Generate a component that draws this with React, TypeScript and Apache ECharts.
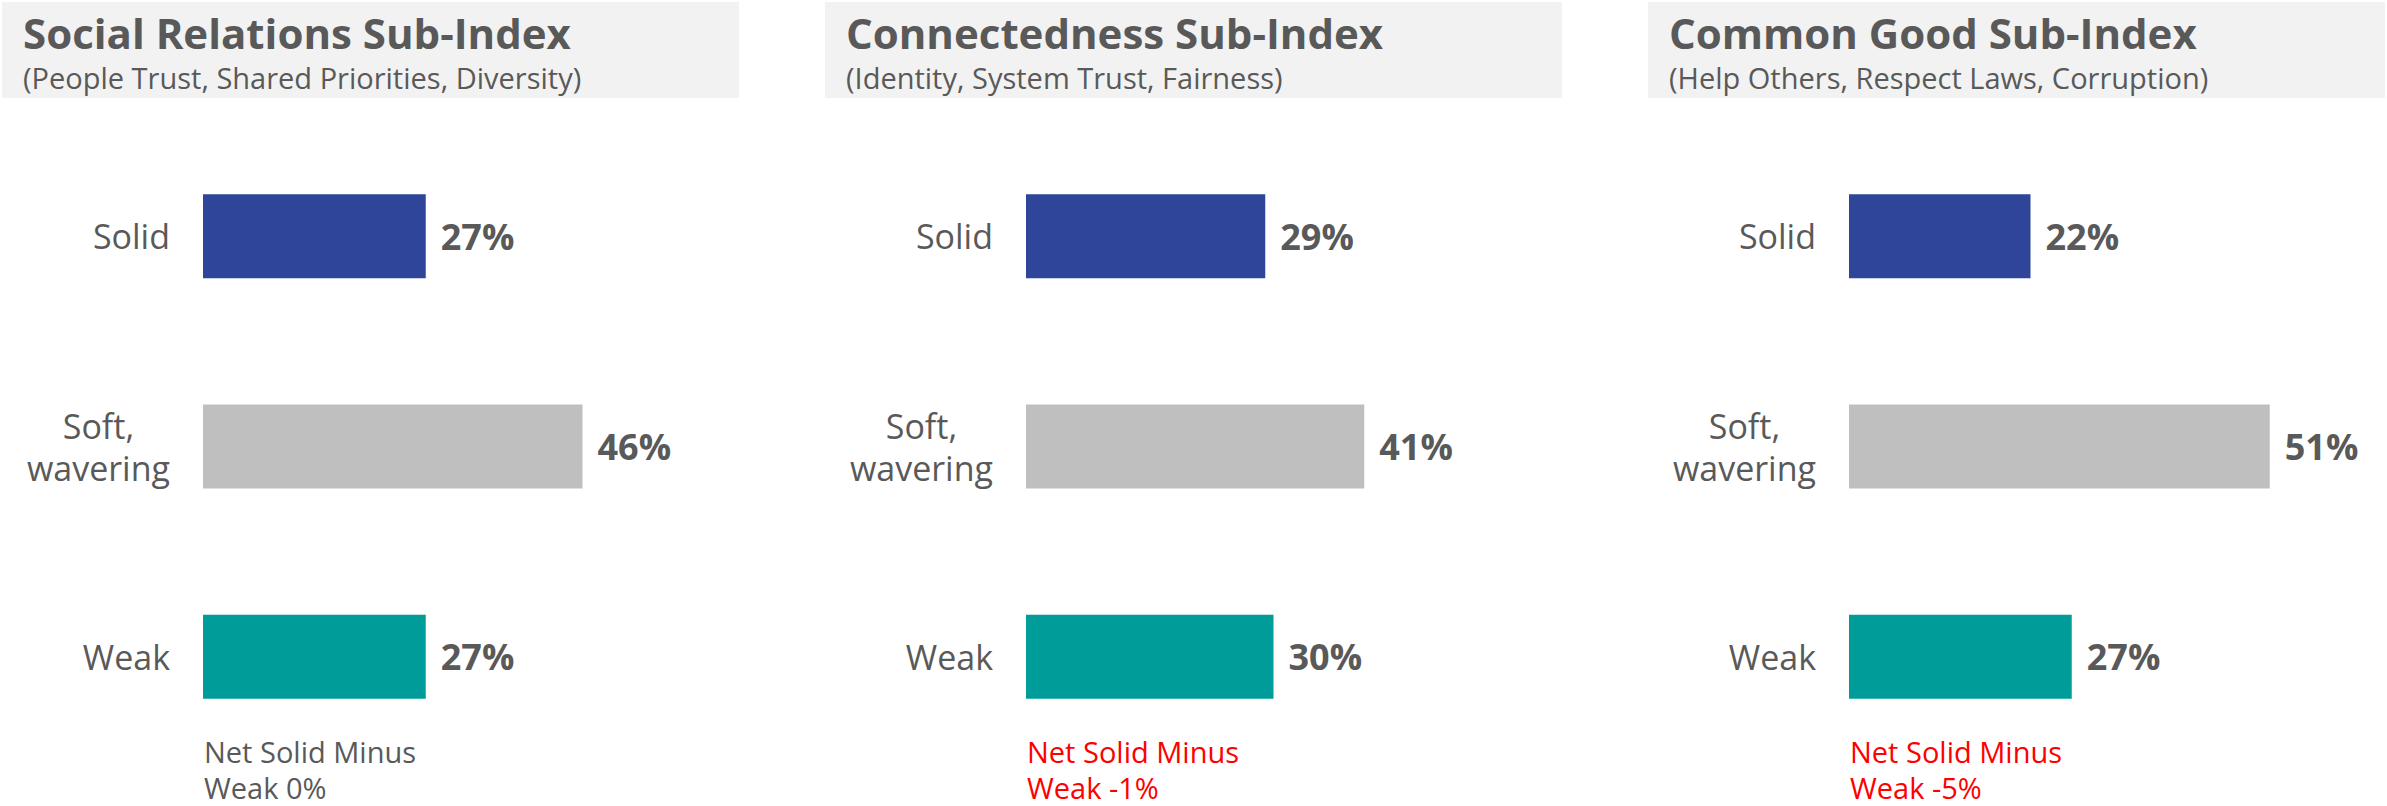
import React, { useEffect, useRef } from "react";
import * as echarts from "echarts";

const categories = ["Solid", "Soft,\nwavering", "Weak"];
const socialRelations = [27, 46, 27];
const connectedness = [29, 41, 30];
const commonGood = [22, 51, 27];
const panelValues = [socialRelations, connectedness, commonGood];
const panelTitles = ["Social Relations Sub-Index", "Connectedness Sub-Index", "Common Good Sub-Index"];
const panelSubtitles = [
  "(People Trust, Shared Priorities, Diversity)",
  "(Identity, System Trust, Fairness)",
  "(Help Others, Respect Laws, Corruption)",
];
const netNotes = ["Net Solid Minus\nWeak 0%", "Net Solid Minus\nWeak -1%", "Net Solid Minus\nWeak -5%"];
const noteColors = ["#595959", "#FF0000", "#FF0000"];
const barColors = ["#2E4599", "#BFBFBF", "#009C9A"];

const FONT = '"Open Sans", sans-serif';
const GRAY = "#595959";

export default function App() {
  const ref = useRef<HTMLDivElement>(null);
  useEffect(() => {
    document.body.style.margin = "0";
    const chart = echarts.init(ref.current!, null, { renderer: "svg" });
    const PANEL_DX = 823;
    const GRID_LEFT = 203;
    const X_MAX = 60;
    const PX_PER_UNIT = 8.25;
    const grids: any[] = [];
    const xAxes: any[] = [];
    const yAxes: any[] = [];
    const series: any[] = [];
    const graphics: any[] = [];
    panelValues.forEach((vals, p) => {
      const left = GRID_LEFT + PANEL_DX * p;
      grids.push({ left, top: 131, width: X_MAX * PX_PER_UNIT, height: 631 });
      xAxes.push({ type: "value", gridIndex: p, min: 0, max: X_MAX, show: false });
      yAxes.push({
        type: "category",
        gridIndex: p,
        inverse: true,
        data: categories,
        axisLine: { show: false },
        axisTick: { show: false },
        splitLine: { show: false },
        axisLabel: {
          margin: 33,
          fontSize: 34,
          fontFamily: FONT,
          color: GRAY,
          lineHeight: 42,
          formatter: (v: string) =>
            v.includes("\n") ? v.split("\n").map((l) => `{c|${l}}`).join("\n") : v,
          rich: {
            c: { align: "center", fontSize: 34, fontFamily: FONT, color: GRAY, lineHeight: 42 },
          },
        },
      });
      series.push({
        type: "bar",
        xAxisIndex: p,
        yAxisIndex: p,
        barWidth: 84,
        data: vals.map((v, i) => ({ value: v, itemStyle: { color: barColors[i] } })),
        label: {
          show: true,
          position: "right",
          distance: 15,
          formatter: "{c}%",
          fontFamily: FONT,
          fontWeight: "bold",
          fontSize: 36,
          color: GRAY,
        },
      });
      graphics.push({
        type: "rect",
        shape: { x: 2 + PANEL_DX * p, y: 2, width: 737, height: 96 },
        style: { fill: "#F2F2F2" },
        silent: true,
        z: 0,
      });
      graphics.push({
        type: "text",
        x: 23 + PANEL_DX * p,
        y: 32,
        style: {
          text: panelTitles[p],
          font: `bold 42px ${FONT}`,
          lineHeight: 44,
          fill: GRAY,
          textVerticalAlign: "middle",
        },
        z: 1,
      });
      graphics.push({
        type: "text",
        x: 23 + PANEL_DX * p,
        y: 77,
        style: {
          text: panelSubtitles[p],
          font: `29px ${FONT}`,
          lineHeight: 32,
          fill: GRAY,
          textVerticalAlign: "middle",
        },
        z: 1,
      });
      graphics.push({
        type: "text",
        x: left + 1,
        y: 769,
        style: {
          text: netNotes[p],
          font: `29px ${FONT}`,
          fill: noteColors[p],
          lineHeight: 36,
          textVerticalAlign: "middle",
        },
        z: 1,
      });
    });
    chart.setOption({
      animation: false,
      backgroundColor: "#FFFFFF",
      grid: grids,
      xAxis: xAxes,
      yAxis: yAxes,
      series,
      graphic: graphics,
    });
    return () => chart.dispose();
  }, []);
  return <div ref={ref} style={{ width: 2387, height: 806 }} />;
}
